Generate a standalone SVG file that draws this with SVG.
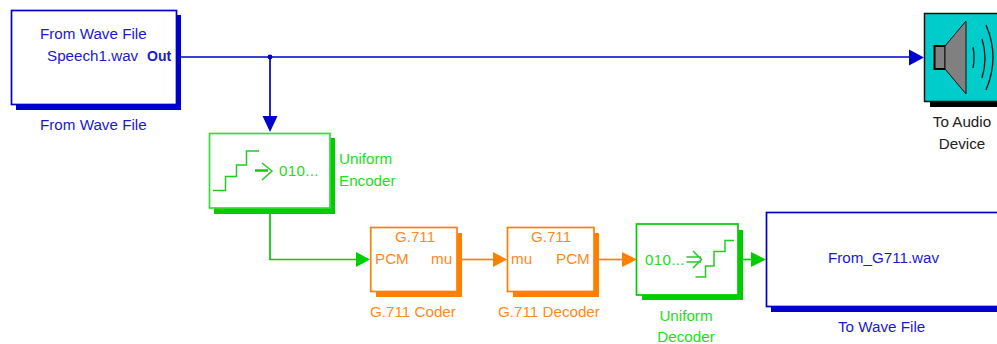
<svg xmlns="http://www.w3.org/2000/svg" width="997" height="344" viewBox="0 0 997 344">
<defs>
<style>
text{font-family:"Liberation Sans",Arial,sans-serif;font-size:15.2px}
.b{fill:#1a1ad0}.g{fill:#22dd22}.o{fill:#ff8a20}.k{fill:#222}
.m{text-anchor:middle}
.box{fill:#fff;stroke-width:1.7}
.sb{fill:#0000cc}.sg{fill:#00cc00}.so{fill:#ff8000}
.lb{fill:none;stroke:#0000cc;stroke-width:1.7}
.lg{fill:none;stroke:#00cc00;stroke-width:1.7}
.lo{fill:none;stroke:#ff8000;stroke-width:1.7}
.ic{fill:none;stroke:#22cc22;stroke-width:1.5}
</style>
</defs>
<rect width="997" height="344" fill="#fff"/>
<g id="connectors">
<path class="lb" d="M181 57H910M270 57V118"/>
<circle cx="270" cy="57" r="2.400" fill="#0000cc"/>
<polygon class="sb" points="262.500,116 277.500,116 270,132"/>
<polygon class="sb" points="909,49.500 909,65.500 924,57.500"/>
<path class="lg" d="M270 214V259.500H358"/>
<polygon class="sg" points="356,252 356,267 370,259.500"/>
<path class="lo" d="M462 259.500H494"/>
<polygon class="so" points="493,252 493,267 507,259.500"/>
<path class="lo" d="M599 259.500H624"/>
<polygon class="so" points="622,252 622,267 637,259.500"/>
<path class="lg" d="M743 259.500H753"/>
<polygon class="sg" points="751,252 751,267 766,259.500"/>
</g>
<g id="from-wave-file">
<rect class="sb" x="16" y="15" width="165" height="95"/>
<rect class="box" x="11.500" y="10.500" width="165" height="94" stroke="#0000cc"/>
<text class="b" x="40" y="39">From Wave File</text>
<text class="b" x="47" y="61">Speech1.wav</text>
<text class="b" x="147" y="61" font-weight="bold" style="font-size:14px">Out</text>
<text class="b" x="40" y="130">From Wave File</text>
</g>
<g id="to-audio-device">
<rect x="930" y="19" width="67" height="88" fill="#000"/>
<rect x="924.500" y="13.500" width="75" height="88" fill="#00cccc" stroke="#111" stroke-width="1.500"/>
<rect x="934.500" y="46" width="11" height="23" fill="#808080" stroke="#000" stroke-width="2"/>
<polygon points="945,46 966,21 966,94 945,69" fill="#808080" stroke="#111"/>
<path d="M973 47Q975 57 973 68M982 39Q988 58 982 78M986 25Q1000 57 986 90" fill="none" stroke="#111" stroke-width="1.300"/>
<text class="k m" x="962" y="127">To Audio</text>
<text class="k m" x="962" y="149">Device</text>
</g>
<g id="uniform-encoder">
<rect class="sg" x="214" y="138" width="121" height="76"/>
<rect class="box" x="209.500" y="133.500" width="120.500" height="74.500" stroke="#33dd33"/>
<path class="ic" d="M213 190.500H225.500V176.500H236.500V165H246.500V151H259"/>
<path d="M255 170.500H268" stroke="#11cc11" stroke-width="2.500" fill="none"/>
<path class="ic" d="M262 163L272 171L262 180"/>
<text class="g" x="279" y="176" letter-spacing=".3">010...</text>
<text class="g" x="339" y="164">Uniform</text>
<text class="g" x="339" y="186">Encoder</text>
</g>
<g id="g711-coder">
<rect class="so" x="376" y="233" width="86" height="64"/>
<rect class="box" x="370.750" y="227.500" width="86.250" height="64" stroke="#ff8000"/>
<text class="o m" x="415" y="242">G.711</text>
<text class="o" x="375" y="264">PCM</text>
<text class="o" x="431" y="264">mu</text>
<text class="o" x="370" y="317">G.711 Coder</text>
</g>
<g id="g711-decoder">
<rect class="so" x="513" y="233" width="86" height="64"/>
<rect class="box" x="507.500" y="227.500" width="86.500" height="64" stroke="#ff8000"/>
<text class="o m" x="551" y="242">G.711</text>
<text class="o" x="511" y="264">mu</text>
<text class="o" x="556" y="264">PCM</text>
<text class="o" x="498" y="317">G.711 Decoder</text>
</g>
<g id="uniform-decoder">
<rect class="sg" x="642" y="230" width="101" height="70"/>
<rect class="box" x="636.500" y="224" width="101.500" height="71" stroke="#00cc00"/>
<text class="g" x="645" y="265" letter-spacing=".3">010...</text>
<path class="ic" d="M686.500 257H701M686.500 262H701M693 251L701.500 259.500L693 268"/>
<path class="ic" d="M695.500 277H705.500V266H714V251.500H725V240.500H734"/>
<text class="g m" x="686" y="321">Uniform</text>
<text class="g m" x="686" y="342">Decoder</text>
</g>
<g id="to-wave-file">
<rect class="sb" x="771" y="217" width="226" height="95"/>
<rect class="box" x="766.500" y="212.500" width="235" height="94" stroke="#0000cc"/>
<text class="b" x="828" y="263">From_G711.wav</text>
<text class="b" x="838" y="332">To Wave File</text>
</g>
</svg>
